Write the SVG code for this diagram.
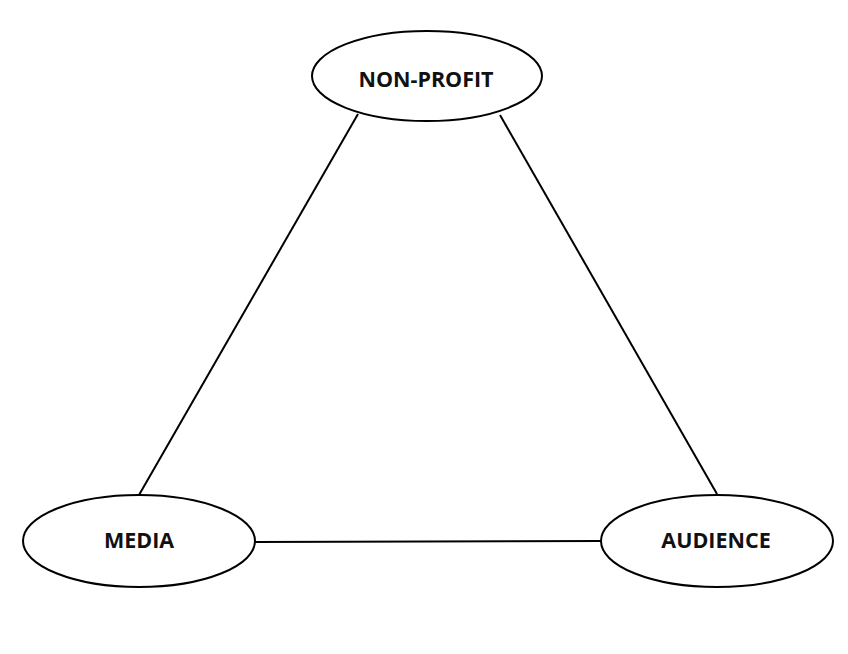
<svg xmlns="http://www.w3.org/2000/svg" width="848" height="654" viewBox="0 0 848 654">
<style>
.node ellipse{fill:#fff;stroke:#000;stroke-width:2}
.node text{font-family:"Open Sans","Liberation Sans",sans-serif;font-weight:bold;font-size:21.5px;fill:#111;text-anchor:middle}
.edges line{stroke:#000;stroke-width:2}
</style>
<rect width="848" height="654" fill="#fff"/>
<g class="edges">
<line x1="358" y1="114" x2="139" y2="495"/>
<line x1="500" y1="115" x2="717" y2="494"/>
<line x1="255" y1="542" x2="602" y2="541"/>
</g>
<g id="nonprofit" class="node">
<ellipse cx="427" cy="76" rx="115" ry="45"/>
<text x="426" y="87">NON-PROFIT</text>
</g>
<g id="media" class="node">
<ellipse cx="139" cy="541" rx="116" ry="46"/>
<text x="139" y="548">MEDIA</text>
</g>
<g id="audience" class="node">
<ellipse cx="717" cy="541" rx="116" ry="46"/>
<text x="716" y="548">AUDIENCE</text>
</g>
</svg>
